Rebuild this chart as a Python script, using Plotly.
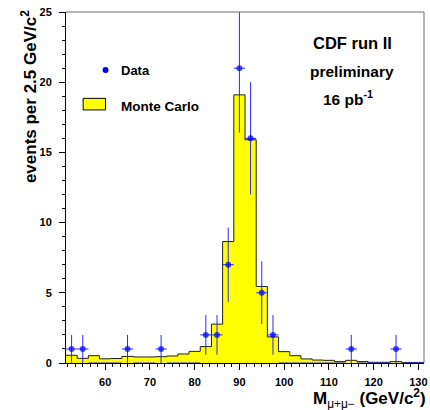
import plotly.graph_objects as go
import numpy as np

# ---- data ----
bin_lo = 51.25
bin_width = 2.5
bin_centers = [52.5 + 2.5 * i for i in range(32)]
mc_values = [0.55, 0.33, 0.52, 0.30, 0.32, 0.47, 0.43, 0.43, 0.45, 0.50,
             0.64, 0.83, 1.17, 2.77, 8.65, 19.1, 15.9, 5.45, 1.86, 0.81,
             0.52, 0.29, 0.21, 0.19, 0.10, 0.19, 0.10, 0.05, 0.05, 0.10,
             0.04, 0.04]
data_values = [1, 1, 0, 0, 0, 1, 0, 0, 1, 0,
               0, 0, 2, 2, 7, 21, 16, 5, 2, 0,
               0, 0, 0, 0, 0, 1, 0, 0, 0, 1,
               0, 0]
x_ticks = [60, 70, 80, 90, 100, 110, 120, 130]
y_ticks = [0, 5, 10, 15, 20, 25]

FONT = "Liberation Sans, Arial, sans-serif"

edges = [bin_lo + bin_width * i for i in range(len(mc_values) + 1)]
mc_step_y = mc_values + [mc_values[-1]]

fig = go.Figure()

# Monte Carlo histogram (step, filled)
fig.add_trace(go.Scatter(
    x=edges, y=mc_step_y, mode="lines", line=dict(shape="hv", color="#202020", width=1),
    fill="tozeroy", fillcolor="#ffff00", hoverinfo="skip", showlegend=False))

# Data points with Poisson errors
errs = [float(np.sqrt(v)) for v in data_values]
sizes = [6 if v > 0 else 0 for v in data_values]
fig.add_trace(go.Scatter(
    x=bin_centers, y=data_values, mode="markers",
    marker=dict(color="#0000ff", size=sizes, symbol="circle", line=dict(width=0)),
    error_y=dict(type="data", array=errs, visible=True, color="#2a2aff", thickness=1, width=0),
    error_x=dict(type="constant", value=bin_width / 2, visible=True, color="#2a2aff", thickness=1, width=0),
    showlegend=False, cliponaxis=True))

fig.update_layout(
    width=430, height=410,
    margin=dict(l=66, r=2, t=12, b=47),
    paper_bgcolor="white", plot_bgcolor="white",
    font=dict(family=FONT, color="black"),
    showlegend=False,
)

fig.update_xaxes(
    range=[bin_lo, bin_lo + bin_width * len(mc_values)],
    tickvals=x_ticks, ticktext=[str(t) for t in x_ticks],
    ticks="outside", ticklen=6, tickwidth=1, tickcolor="black",
    minor=dict(ticks="outside", ticklen=3, dtick=10 / 6, tick0=60, tickcolor="black"),
    showline=True, linecolor="black", linewidth=1,
    showgrid=False, zeroline=False, layer="below traces",
    tickfont=dict(family=FONT, size=11, color="black", weight="bold"),
    ticklabelstandoff=3, ticklabeloverflow="allow",
)
fig.update_yaxes(
    range=[0, 25],
    tickvals=y_ticks, ticktext=[str(t) for t in y_ticks],
    ticks="outside", ticklen=6, tickwidth=1, tickcolor="black",
    minor=dict(ticks="outside", ticklen=3, dtick=1, tickcolor="black"),
    showline=True, linecolor="black", linewidth=1,
    showgrid=False, zeroline=False,
    tickfont=dict(family=FONT, size=11, color="black", weight="bold"),
    ticklabelstandoff=5, ticklabeloverflow="allow",
)

# frame (top / right)
fig.add_shape(type="line", xref="paper", yref="paper", x0=0, x1=1, y0=1, y1=1,
              line=dict(color="#707070", width=1))
fig.add_shape(type="line", xref="paper", yref="paper", x0=1, x1=1, y0=0, y1=1,
              line=dict(color="#707070", width=1))

# legend (manual)
fig.add_shape(type="circle", xref="paper", yref="paper",
              x0=0.1105 - 3 / 362, x1=0.1105 + 3 / 362, y0=0.835 - 3 / 351, y1=0.835 + 3 / 351,
              fillcolor="#0000ff", line=dict(width=0))
fig.add_shape(type="rect", xref="paper", yref="paper",
              x0=0.0478, x1=0.1105, y0=0.721, y1=0.754,
              fillcolor="#ffff00", line=dict(color="black", width=1))
fig.add_annotation(text="<b>Data</b>", xref="paper", yref="paper", x=0.149, y=0.832,
                   xanchor="left", yanchor="middle", showarrow=False,
                   font=dict(family=FONT, size=13, color="black"))
fig.add_annotation(text="<b>Monte Carlo</b>", xref="paper", yref="paper", x=0.147, y=0.732,
                   xanchor="left", yanchor="middle", showarrow=False,
                   font=dict(family=FONT, size=13.5, color="black"))

# labels
fig.add_annotation(text="<b>CDF run II</b>", xref="paper", yref="paper", x=0.800, y=0.912,
                   xanchor="center", yanchor="middle", showarrow=False,
                   font=dict(family=FONT, size=16.5, color="black"))
fig.add_annotation(text="<b>preliminary</b>", xref="paper", yref="paper", x=0.798, y=0.831,
                   xanchor="center", yanchor="middle", showarrow=False,
                   font=dict(family=FONT, size=15.5, color="black"))
fig.add_annotation(text="<b>16 pb<sup>-1</sup></b>", xref="paper", yref="paper", x=0.789, y=0.755,
                   xanchor="center", yanchor="middle", showarrow=False,
                   font=dict(family=FONT, size=15.5, color="black"))

# axis titles
fig.add_annotation(text="<b>events per 2.5 GeV/c<sup>2</sup></b>", xref="paper", yref="paper",
                   x=-0.103, y=1.01, xanchor="center", yanchor="top", textangle=-90,
                   showarrow=False, font=dict(family=FONT, size=17, color="black"))
fig.add_annotation(text="<b>M</b><sub>μ+μ−</sub><b> (GeV/c<sup>2</sup>)</b>", xref="paper", yref="paper",
                   x=1.012, y=-0.102, xanchor="right", yanchor="middle",
                   showarrow=False, font=dict(family=FONT, size=17, color="black"))

fig.write_html("out.html", config={"displayModeBar": False},
               post_script="document.body.style.margin='0px';document.body.style.overflow='hidden';")
